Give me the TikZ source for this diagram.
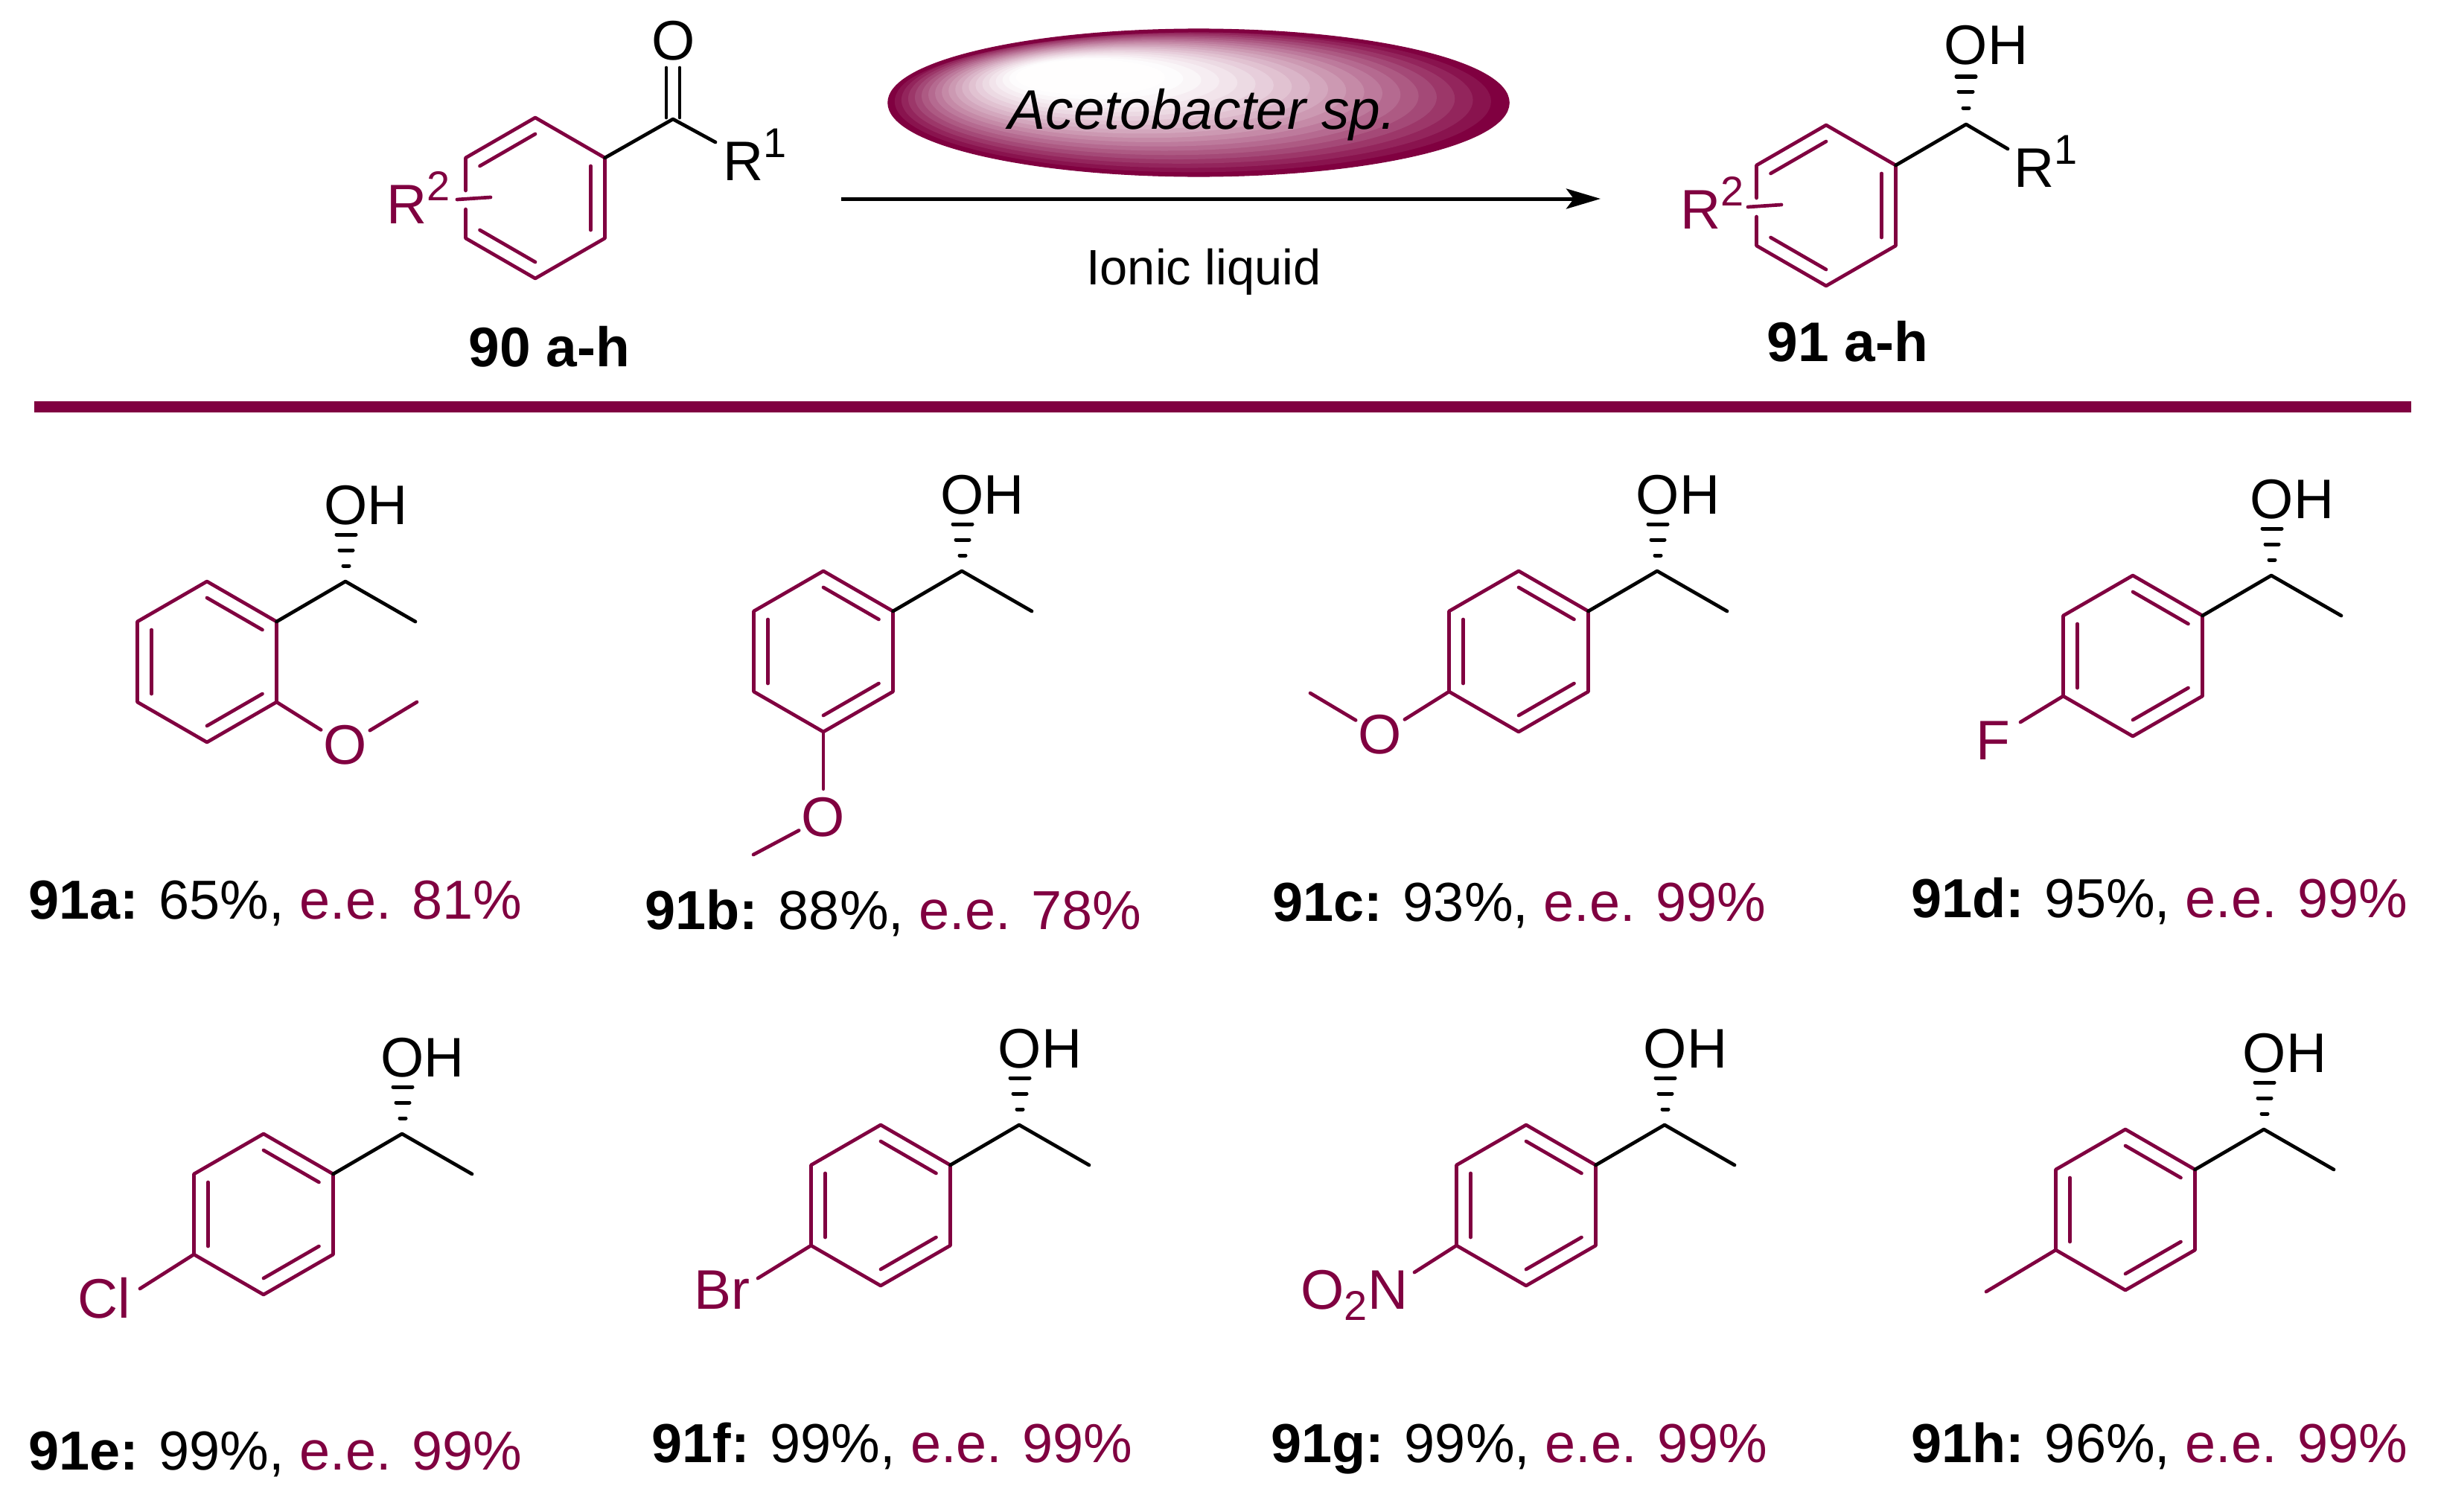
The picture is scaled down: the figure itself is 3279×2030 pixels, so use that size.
\documentclass[tikz,border=0pt]{standalone}
\usepackage{fontspec}
\setmainfont{Liberation Sans}
\usetikzlibrary{arrows.meta}
\definecolor{berry}{RGB}{128,0,64}
\newcommand{\bigfont}{\fontsize{21.3pt}{25pt}\selectfont}
\newcommand{\yieldfont}{\fontsize{21pt}{25pt}\selectfont}
\newcommand{\smallidx}{\fontsize{15.9pt}{18pt}\selectfont}
\newcommand{\upidx}[1]{\raisebox{.3cm}{\smallidx #1}}
\newcommand{\downidx}[1]{\raisebox{-.15cm}{\smallidx #1}}
\tikzset{
  bond/.style={line width=.047cm, line cap=round, line join=round},
  ringbond/.style={bond, draw=berry},
  hashbar/.style={line width=.05cm, line cap=round},
  atomlabel/.style={font=\bigfont, inner sep=0pt, anchor=base west},
  ringatom/.style={font=\bigfont, text=berry, inner sep=.03cm},
  yieldlabel/.style={font=\yieldfont, inner sep=0pt, anchor=base west},
}
\begin{document}
\begin{tikzpicture}[x=.01cm, y=-.01cm]
      \useasboundingbox (0,0) rectangle (3279,2030);

      \foreach \band in {100,96,...,4} {
        \pgfmathsetmacro{\cx}{1419+1.91*\band}
        \pgfmathsetmacro{\cy}{93+.45*\band}
        \pgfmathsetmacro{\rx}{.0417*\band}
        \pgfmathsetmacro{\ry}{.0099*\band}
        \pgfmathsetmacro{\mixp}{min(100,100*pow(max(\band-25,1)/75,1.4))}
        \fill[berry!\mixp!white] (\cx,\cy) ellipse [x radius=\rx cm, y radius=\ry cm];
      }
      \draw[berry, line width=.05cm] (1610,138) ellipse [x radius=4.15cm, y radius=.97cm];
      \node[font=\bigfont\itshape, inner sep=0pt, anchor=base west] (enzyme) at (1354,173) {Acetobacter sp.};
      \node[font=\fontsize{19pt}{22pt}\selectfont, inner sep=0pt, anchor=base] (solvent) at (1617,382) {Ionic liquid};
      \coordinate (arrowL) at (1130,267);
      \coordinate (arrowR) at (2150,267);
      \draw[line width=.05cm, -{Stealth[length=.46cm, width=.27cm, inset=.1cm]}] (arrowL) -- (arrowR);
      \coordinate (ruleL) at (46,546);
      \coordinate (ruleR) at (3239,546);
      \draw[berry, line width=.15cm] (ruleL) -- (ruleR);

      \foreach \m/\x/\y in {u/719/266, v/2453/276} {
        \begin{scope}[shift={(\x,\y)}]
          \path
            (-90:108) coordinate (\m1)
            (-30:108) coordinate (\m2)
            (30:108) coordinate (\m3)
            (90:108) coordinate (\m4)
            (150:108) coordinate (\m5)
            (210:108) coordinate (\m6)
            (-93.5,-10) coordinate (\m gapa)
            (-93.5,15) coordinate (\m gapb)
            (-105,2) coordinate (\m subl)
            (-60,-1) coordinate (\m subr);
          \draw[ringbond] (\m gapa) -- (\m6) -- (\m1) -- (\m2) -- (\m3) -- (\m4) -- (\m5) -- (\m gapb);
          \draw[ringbond] (\m subl) -- (\m subr);
          \draw[ringbond] (210:86) -- (270:86);
          \draw[ringbond] (-30:86) -- (30:86);
          \draw[ringbond] (90:86) -- (150:86);
        \end{scope}
      }
      \node[atomlabel, text=berry] (uR) at (519,300) {R\upidx{2}};
      \node[atomlabel, text=berry] (vR) at (2257,307) {R\upidx{2}};

      \coordinate (uC) at (904,160);
      \coordinate (uEnd) at (961,191);
      \coordinate (uDa) at (895,91);
      \coordinate (uDb) at (895,158);
      \coordinate (uDc) at (913,91);
      \coordinate (uDd) at (913,158);
      \node[atomlabel] (uO) at (875,80) {O};
      \node[atomlabel] (uRone) at (971,242) {R\upidx{1}};
      \draw[bond] (u2) -- (uC) -- (uEnd);
      \draw[bond] (uDa) -- (uDb);
      \draw[bond] (uDc) -- (uDd);
      \node[atomlabel, anchor=base] (uName) at (738,492) {\textbf{90 a-h}};

      \coordinate (vC) at (2641,167);
      \coordinate (vEnd) at (2697,200);
      \node[atomlabel] (vOH) at (2611,86) {OH};
      \node[atomlabel] (vRone) at (2705,251) {R\upidx{1}};
      \draw[bond] (v2) -- (vC) -- (vEnd);
      \draw[hashbar] (2628,103) -- (2654,103);
      \draw[hashbar] (2631,123) -- (2650,123);
      \draw[hashbar] (2637,145) -- (2645,145);
      \node[atomlabel, anchor=base] (vName) at (2482,485) {\textbf{91 a-h}};

      \foreach \m/\x/\y/\lx/\ly/\yld/\ee in {
          a/278/889/38/1234/65/81,
          b/1106/875/866/1248/88/78,
          c/2040/875/1709/1237/93/99,
          d/2865/881/2567/1232/95/99,
          e/354/1631/38/1974/99/99,
          f/1183/1619/875/1964/99/99,
          g/2050/1619/1707/1964/99/99,
          h/2855/1625/2567/1964/96/99} {
        \begin{scope}[shift={(\x,\y)}]
          \path
            (-90:108) coordinate (\m1)
            (-30:108) coordinate (\m2)
            (30:108) coordinate (\m3)
            (90:108) coordinate (\m4)
            (150:108) coordinate (\m5)
            (210:108) coordinate (\m6)
            (186,-108) coordinate (\m C)
            (280,-54) coordinate (\m Me);
          \draw[ringbond] (\m1) -- (\m2) -- (\m3) -- (\m4) -- (\m5) -- (\m6) -- cycle;
          \draw[ringbond] (-90:86) -- (-30:86);
          \draw[ringbond] (30:86) -- (90:86);
          \draw[ringbond] (150:86) -- (210:86);
          \draw[bond] (\m2) -- (\m C) -- (\m Me);
          \node[atomlabel] (\m OH) at (157,-185) {OH};
          \draw[hashbar] (174,-171) -- (200,-171);
          \draw[hashbar] (178,-150) -- (196,-150);
          \draw[hashbar] (183,-129) -- (191,-129);
        \end{scope}
        \node[yieldlabel] (\m Name) at (\lx,\ly) {\textbf{91\m:} \yld\%, \textcolor{berry}{e.e. \ee\%}};
      }

      \node[ringatom] (aO) at (464,1001) {O};
      \coordinate (aEnd) at (560,943);
      \draw[ringbond] (a3) -- (aO) -- (aEnd);

      \node[ringatom] (bO) at (1106,1098) {O};
      \coordinate (bEnd) at (1012,1148);
      \draw[ringbond, shorten >=.08cm] (b4) -- (bO);
      \draw[ringbond] (bO) -- (bEnd);

      \node[ringatom] (cO) at (1854,987) {O};
      \coordinate (cEnd) at (1760,931);
      \draw[ringbond] (c5) -- (cO) -- (cEnd);

      \node[atomlabel, text=berry] (dF) at (2654,1020) {F};
      \coordinate (dEnd) at (2714,970);
      \draw[ringbond] (d5) -- (dEnd);

      \node[atomlabel, text=berry] (eCl) at (104,1770) {Cl};
      \coordinate (eEnd) at (188,1731);
      \draw[ringbond] (e5) -- (eEnd);

      \node[atomlabel, text=berry] (fBr) at (932,1758) {Br};
      \coordinate (fEnd) at (1018,1717);
      \draw[ringbond] (f5) -- (fEnd);

      \node[atomlabel, text=berry] (gNO) at (1747,1758) {O\downidx{2}N};
      \coordinate (gEnd) at (1900,1709);
      \draw[ringbond] (g5) -- (gEnd);

      \coordinate (hEnd) at (2668,1735);
      \draw[ringbond] (h5) -- (hEnd);
    \end{tikzpicture}
\end{document}
